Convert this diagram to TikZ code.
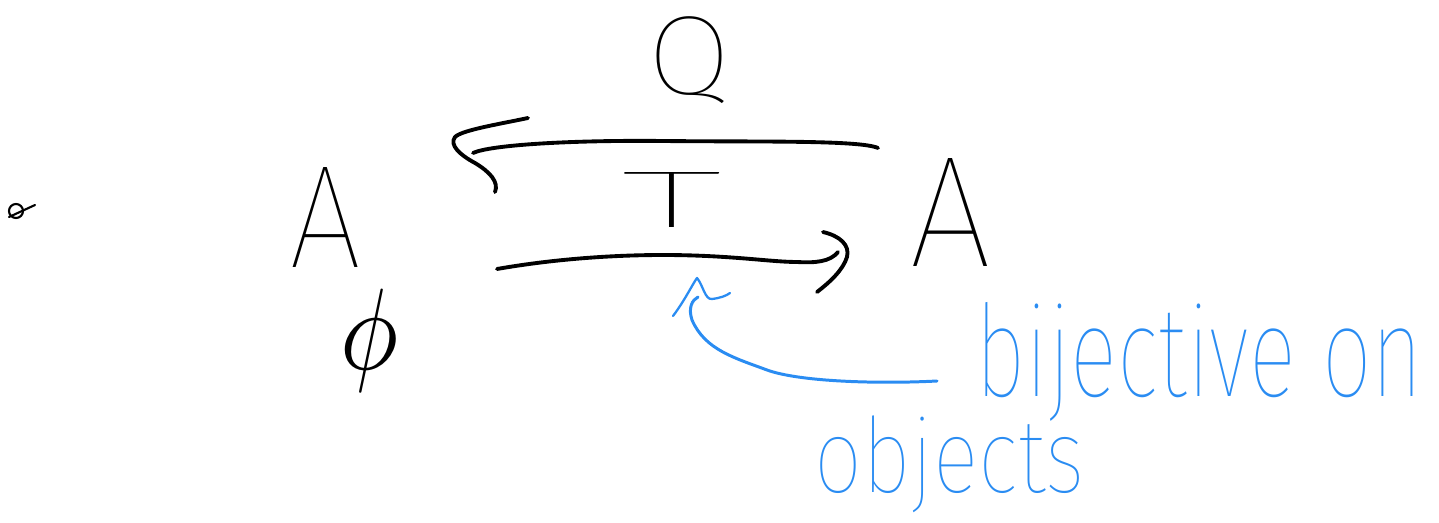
\documentclass[tikz,border=0pt]{standalone}
\usepackage{fontspec}
\usepackage{graphicx}
\newfontfamily\hand{Fira Sans Thin}
\definecolor{penblue}{HTML}{2A8CF2}
\begin{document}
\begin{tikzpicture}[x=0.02cm,y=-0.02cm,
  ink/.style={line width=2.2pt,line cap=round,line join=round},
  blueink/.style={line width=1.7pt,color=penblue,line cap=round,line join=round},
  lbl/.style={inner sep=0pt,outer sep=0pt}]
\useasboundingbox (0,0) rectangle (1439,523);

% stray pen mark on the left
\node[lbl] (dot) at (16,211) {};
\draw[line width=1.2pt] (dot) circle (7);
\draw[line width=1.2pt,line cap=round] (9,217) -- (35,205);

% objects
\node[lbl] (A1) at (326,218) {\resizebox*{1.44cm}{2.0cm}{\hand A}};
\node[lbl] (A2) at (951,213) {\resizebox*{1.64cm}{2.16cm}{\hand A}};
\node[lbl] (phi) at (369,341) {\resizebox*{1.16cm}{2.06cm}{$\phi$}};

% labels of the two arrows
\node[lbl] (Q) at (690,60) {\resizebox*{1.68cm}{1.74cm}{\hand Q}};
\node[lbl] (T) at (672,200) {\resizebox*{2.02cm}{1.1cm}{\hand T}};

% arrow ends
\coordinate (qs) at (878,148);
\coordinate (qe) at (473,153);
\coordinate (ts) at (497,269);
\coordinate (te) at (838,252);

% Q : A <- A
\draw[ink] (qs) .. controls (860,140) and (760,142) .. (663,141)
  .. controls (570,140) and (490,145) .. (qe);
\draw[ink] (528,118) .. controls (500,124) and (462,130) .. (455,137)
  .. controls (449,145) and (460,155) .. (475,163)
  .. controls (490,172) and (499,182) .. (495,192);

% T : A -> A
\draw[ink] (ts) .. controls (560,258) and (620,255) .. (663,255)
  .. controls (730,255) and (770,262) .. (797,262)
  .. controls (815,263) and (830,262) .. (te);
\draw[ink] (823,232) .. controls (840,236) and (850,245) .. (847,257)
  .. controls (843,270) and (830,282) .. (817,292);

% annotation
\node[lbl,color=penblue] (bij) at (1199,362) {\resizebox*{8.96cm}{2.38cm}{\hand bijective on}};
\node[lbl,color=penblue] (obj) at (950,464) {\resizebox*{5.4cm}{1.94cm}{\hand objects}};
\coordinate (bs) at (937,381);
\coordinate (bt) at (698,297);
\draw[blueink] (bs) .. controls (880,384) and (800,382) .. (767,370)
  .. controls (735,358) and (705,350) .. (692,320)
  .. controls (688,308) and (692,300) .. (bt);
\draw[blueink,line width=1.3pt] (673,316) .. controls (685,300) and (692,285) .. (697,278)
  .. controls (703,285) and (705,300) .. (712,299)
  .. controls (720,298) and (726,296) .. (730,293);
\end{tikzpicture}
\end{document}
